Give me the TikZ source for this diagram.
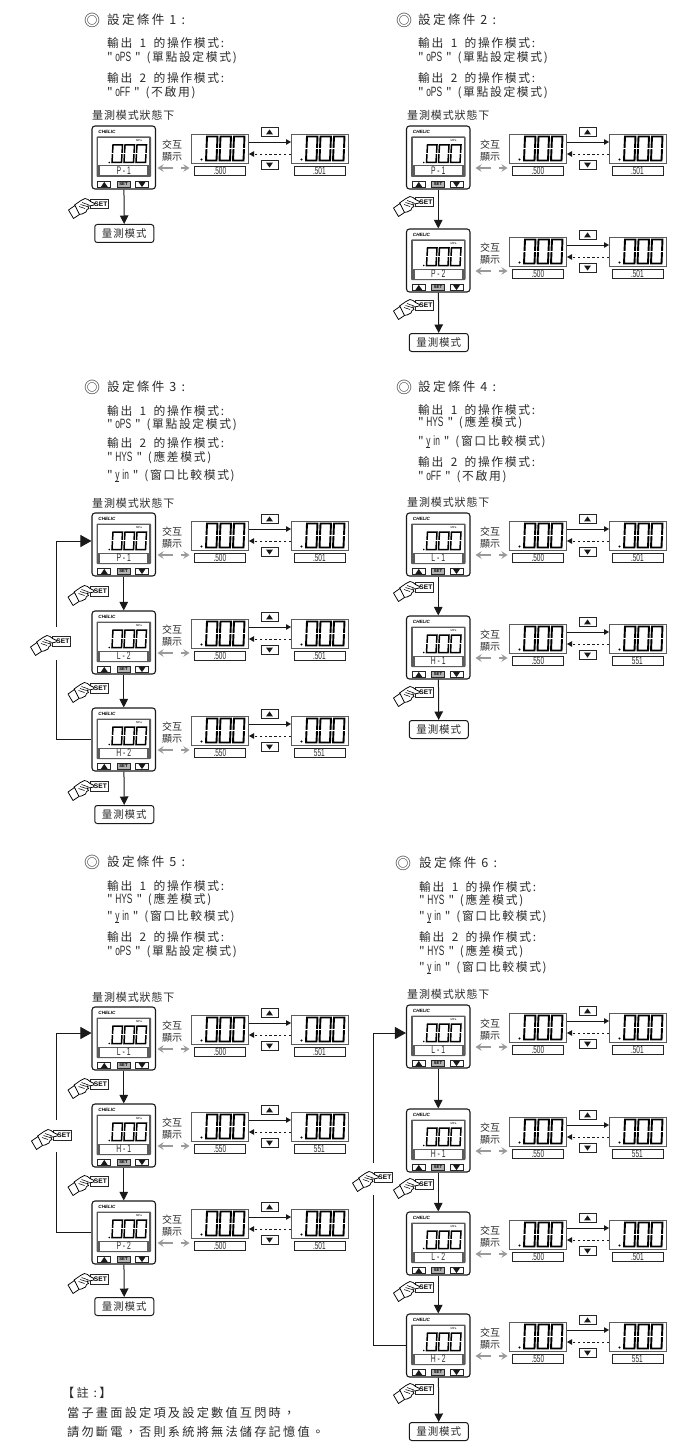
\documentclass[tikz,border=0pt]{standalone}
\usepackage{fontspec}
\usetikzlibrary{arrows.meta}
\setmainfont{Liberation Sans}
\newfontfamily\cjktitle[LetterSpace=18]{Noto Sans CJK TC}
\newfontfamily\cjkline[LetterSpace=14]{Noto Sans CJK TC}
\newfontfamily\cjkplain[LetterSpace=8]{Noto Sans CJK TC}
\newfontfamily\cjktight{Noto Sans CJK TC}
\newfontfamily\segf[FakeStretch=0.62]{Liberation Sans}
\newcommand{\seg}[1]{{\segf #1}}
\newcommand{\segin}[1]{{\segf\fontsize{13.5}{13.5}\selectfont #1}}
\newcommand{\fwcomma}{\symbol{"FF0C}}
\definecolor{ink}{HTML}{2A2A2A}
\definecolor{framegray}{HTML}{5C5C5C}
\definecolor{arrowgray}{HTML}{9A9A9A}
\tikzset{
  x=1pt,y=-1pt,
  devbox/.style={draw=black!90,line width=1.1pt,rounded corners=3pt,minimum width=63.5pt,minimum height=63pt,inner sep=0pt,fill=white},
  dispbox/.style={draw=framegray,line width=1pt,minimum width=57pt,minimum height=29pt,inner sep=0pt,fill=white},
  valbox/.style={draw=black!85,line width=.7pt,minimum width=51pt,minimum height=9pt,inner sep=0pt,font=\fontsize{10.5}{10.5}\selectfont,text=ink},
  labbox/.style={fill=white,minimum width=47pt,minimum height=9pt,inner sep=0pt,font=\fontsize{11}{11}\selectfont,text=ink},
  keybox/.style={draw=black!85,line width=.9pt,minimum width=17pt,minimum height=9.5pt,inner sep=0pt,fill=white},
  devkey/.style={draw=black!85,line width=.9pt,minimum width=13pt,minimum height=6pt,inner sep=0pt,fill=white},
  setkey/.style={devkey,fill=black!30,font=\bfseries\fontsize{4.2}{4.2}\selectfont,text=black},
  setbtn/.style={draw=black!85,line width=.8pt,minimum width=18pt,minimum height=9.5pt,inner sep=0pt,fill=white,font=\bfseries\fontsize{6.6}{6.6}\selectfont,text=black},
  endbox/.style={draw=black!90,line width=1pt,rounded corners=2.5pt,minimum width=59pt,minimum height=18pt,inner sep=0pt,font=\cjkplain\fontsize{10.5}{10.5}\selectfont,text=ink},
  txtline/.style={anchor=west,inner sep=0pt,text=ink,font=\cjkline\fontsize{11.8}{11.8}\selectfont},
  txttitle/.style={anchor=west,inner sep=0pt,text=ink,font=\cjktitle\fontsize{12.6}{12.6}\selectfont},
  txtcap/.style={anchor=west,inner sep=0pt,text=ink,font=\cjkplain\fontsize{11}{11}\selectfont},
  txtnote/.style={anchor=west,inner sep=0pt,text=ink,font=\cjktitle\fontsize{12.2}{12.2}\selectfont},
  swap/.style={inner sep=0pt,text=ink,font=\cjktight\fontsize{10}{10}\selectfont},
  flow/.style={draw=black!90,line width=1pt,-{Triangle[length=8.5pt,width=8.5pt]}},
  loopline/.style={draw=black!90,line width=.9pt},
  loophead/.style={draw=black!90,line width=.9pt,-{Triangle[length=11pt,width=12pt]}},
  fwd/.style={draw=black!90,line width=.9pt,-{Triangle[length=5pt,width=5.5pt]}},
  back/.style={draw=black!90,line width=.9pt,dash pattern=on 2.4pt off 2.4pt,-{Triangle[length=5pt,width=5.5pt]}},
  swaparrow/.style={draw=arrowgray,line width=1.5pt,-{Stealth[length=6pt,width=7.5pt]}},
}
% seven-segment style zero: x, y, width, height, stroke
\newcommand{\segzero}[5]{\draw[line width=#5,black,line join=miter] (#1+1,#2) -- (#1+#3,#2) -- (#1+#3-1,#2+#4) -- (#1,#2+#4) -- cycle;
\draw[white,line width=.55pt] (#1-1,#2+#4/2) -- (#1+2,#2+#4/2) (#1+#3-2,#2+#4/2) -- (#1+#3+1,#2+#4/2);}
\newcommand{\upmark}[2]{\fill[black!90] (#1-3.4,#2+2.4) -- (#1+3.4,#2+2.4) -- (#1,#2-2.6) -- cycle;}
\newcommand{\downmark}[2]{\fill[black!90] (#1-3.4,#2-2.4) -- (#1+3.4,#2-2.4) -- (#1,#2+2.6) -- cycle;}
% name, x, y, label, value 1, value 2, offset of the first display
\newcommand{\dpanel}[7]{%
\begin{scope}[shift={(#2,#3)}]
  \node[devbox] (#1) at (31.75,31.5) {};
  \fill[framegray,rounded corners=.8pt] (4.5,10.5) rectangle (59,51);
  \fill[white] (6.2,12) rectangle (57.3,39.5);
  \node[labbox] (#1lab) at (31.75,45) {\seg{#4}};
  \node[inner sep=0pt,font=\bfseries\itshape\fontsize{4.6}{4.6}\selectfont] (#1brand) at (15,6) {CHELIC};
  \node[inner sep=0pt,font=\fontsize{2.8}{2.8}\selectfont] (#1mpa) at (47,14.5) {MPa};
  \fill (17.2,36.5) circle (.9);
  \segzero{20}{19}{10.5}{17.5}{1.5pt}
  \segzero{32}{19}{10.5}{17.5}{1.5pt}
  \segzero{44}{19}{10.5}{17.5}{1.5pt}
  \node[devkey] (#1ku) at (12.3,58.5) {}; \upmark{12.3}{58.5}
  \node[setkey] (#1ks) at (31.5,58.5) {SET};
  \node[devkey] (#1kd) at (50,58.5) {}; \downmark{50}{58.5}
  \node[swap] (#1s1) at (#7-24,19) {交};
  \node[swap] (#1s2) at (#7-14,19) {互};
  \node[swap] (#1s3) at (#7-24,31) {顯};
  \node[swap] (#1s4) at (#7-14,31) {示};
  \node[dispbox,anchor=north west] (#1L) at (#7,8) {};
  \fill (#7+10.5,8+25.5) circle (1.1);
  \segzero{#7+15}{10.5}{11.5}{24}{1.9pt}
  \segzero{#7+28.5}{10.5}{11.5}{24}{1.9pt}
  \segzero{#7+42}{10.5}{11.5}{24}{1.9pt}
  \node[dispbox,anchor=north west] (#1R) at (#7+100,8) {};
  \fill (#7+110.5,8+25.5) circle (1.1);
  \segzero{#7+115}{10.5}{11.5}{24}{1.9pt}
  \segzero{#7+128.5}{10.5}{11.5}{24}{1.9pt}
  \segzero{#7+142}{10.5}{11.5}{24}{1.9pt}
  \node[valbox,anchor=north west] (#1Lv) at (#7+3,40) {\seg{#5}};
  \node[valbox,anchor=north west] (#1Rv) at (#7+102.5,40) {\seg{#6}};
  \node[keybox] (#1U) at (#7+78.5,6) {}; \upmark{#7+78.5}{6}
  \node[keybox] (#1D) at (#7+78.5,39) {}; \downmark{#7+78.5}{39}
  \draw[fwd] (#1L.east |- 0,16) -- (#1R.west |- 0,16);
  \draw[back] (#1R.west |- 0,28) -- (#1L.east |- 0,28);
  \coordinate (#1g1) at (#7-18,42);
  \coordinate (#1g2) at (#7-33.5,42);
  \coordinate (#1g3) at (#7-10,42);
  \coordinate (#1g4) at (#7-1.5,42);
  \draw[swaparrow] (#1g1) -- (#1g2);
  \draw[swaparrow] (#1g3) -- (#1g4);
\end{scope}}
% pressing hand with its SET key: name, x, y of the key
\newcommand{\presshand}[3]{%
\begin{scope}[shift={(#2,#3)}]
  \node[setbtn,anchor=north west] (#1) at (0,0) {\hspace{3pt}SET};
  \filldraw[fill=white,draw=black,line width=.75pt,line join=round]
    (-15.5,6) -- (-9,1.5) -- (-5,-.5) -- (-2,.5) -- (.5,2.5) -- (4.5,4.5) -- (4.2,6) -- (.5,6.8) -- (-2.5,7) -- (-1,9.5) -- (-3,10.5) -- (-4,13) -- (-8,15) -- (-12,15.5) -- cycle;
  \filldraw[fill=white,draw=black,line width=.75pt,line join=round]
    (-21.5,11) -- (-15,6.5) -- (-10.5,15.5) -- (-16.5,19.5) -- cycle;
  \draw[black,line width=.55pt] (-8,3.5) -- (-1,6) (-9.5,5.5) -- (-3,7.5) (-11,7.5) -- (-5,9.5);
\end{scope}}
\newcommand{\tln}[4]{\node[txtline] (#1) at (#2,#3) {#4};}
\newcommand{\ttl}[5]{\node[inner sep=0pt,text=ink,font=\cjktight\fontsize{16}{16}\selectfont] (#1m) at (#2,#4) {◎};\node[txttitle] (#1) at (#3,#4) {#5};}
\newcommand{\cpt}[4]{\node[txtcap] (#1) at (#2,#3) {#4};}
\newcommand{\outl}[1]{輸出\hspace{3pt} #1\hspace{3pt} 的操作模式:}
\newcommand{\qseg}[1]{"\hspace{2.5pt}\segin{#1}\hspace{4pt}"\hspace{1.5pt}}
\newcommand{\ops}{\qseg{oPS} (單點設定模式)}
\newcommand{\hys}{\qseg{HYS} (應差模式)}
\newcommand{\yin}{\qseg{\underbar{y}\hspace{3pt}in} (窗口比較模式)}
\newcommand{\off}{\qseg{oFF} (不啟用)}
\begin{document}
\begin{tikzpicture}
\useasboundingbox (0,0) rectangle (695,1455);
% condition 1
\ttl{t1}{92}{107}{20}{設定條件 1 :}
\tln{t1a}{107}{43}{\outl{1}}
\tln{t1b}{107}{58}{\ops}
\tln{t1c}{107}{78}{\outl{2}}
\tln{t1d}{107}{93}{\off}
\cpt{c1}{92}{115}{量測模式狀態下}
\dpanel{a}{92}{126}{P - 1}{.500}{.501}{99}
\presshand{ah}{90}{199}
\node[endbox,anchor=north west] (ae) at (94.25,224) {量測模式};
\draw[flow] (a) -- (ae);
% condition 2
\ttl{t2}{404}{418}{20}{設定條件 2 :}
\tln{t2a}{418}{43}{\outl{1}}
\tln{t2b}{418}{58}{\ops}
\tln{t2c}{418}{78}{\outl{2}}
\tln{t2d}{418}{93}{\ops}
\cpt{c2}{407}{115}{量測模式狀態下}
\dpanel{b}{406.5}{126}{P - 1}{.500}{.501}{102.5}
\dpanel{bb}{406.5}{229}{P - 2}{.500}{.501}{102.5}
\presshand{bh}{415}{197}
\presshand{bbh}{415}{300}
\node[endbox,anchor=north west] (be) at (408.75,333) {量測模式};
\draw[flow] (b) -- (bb);
\draw[flow] (bb) -- (be);
% condition 3
\ttl{t3}{92}{107}{387}{設定條件 3 :}
\tln{t3a}{107}{411}{\outl{1}}
\tln{t3b}{107}{425}{\ops}
\tln{t3c}{107}{443}{\outl{2}}
\tln{t3d}{107}{458}{\hys}
\tln{t3e}{107}{476}{\yin}
\cpt{c3}{92}{503}{量測模式狀態下}
\dpanel{c}{92}{513}{P - 1}{.500}{.501}{99}
\dpanel{cc}{92}{611}{L - 2}{.500}{.501}{99}
\dpanel{ccc}{92}{708}{H - 2}{.550}{551}{99}
\presshand{ch}{89.5}{586}
\presshand{cch}{89.5}{683}
\presshand{ccch}{89.5}{781}
\node[endbox,anchor=north west] (ce) at (94.25,805) {量測模式};
\draw[flow] (c) -- (cc);
\draw[flow] (cc) -- (ccc);
\draw[flow] (ccc) -- (ce);
\coordinate (clow) at (56,660);
\coordinate (cup) at (56,627);
\draw[loopline] (ccc.west) -| (clow);
\draw[loophead] (cup) |- ([yshift=3.5pt]c.west);
\presshand{clh}{52}{636}
% condition 4
\ttl{t4}{404}{418}{387}{設定條件 4 :}
\tln{t4a}{418}{410}{\outl{1}}
\tln{t4b}{418}{423}{\hys}
\tln{t4c}{418}{442}{\yin}
\tln{t4d}{418}{462}{\outl{2}}
\tln{t4e}{418}{477}{\off}
\cpt{c4}{407}{502}{量測模式狀態下}
\dpanel{d}{406.5}{513}{L - 1}{.500}{.501}{102.5}
\dpanel{dd}{406.5}{616}{H - 1}{.550}{551}{102.5}
\presshand{dh}{415}{582}
\presshand{ddh}{415}{687}
\node[endbox,anchor=north west] (de) at (408.75,720) {量測模式};
\draw[flow] (d) -- (dd);
\draw[flow] (dd) -- (de);
% condition 5
\ttl{t5}{92}{107}{862}{設定條件 5 :}
\tln{t5a}{107}{886}{\outl{1}}
\tln{t5b}{107}{900}{\hys}
\tln{t5c}{107}{917}{\yin}
\tln{t5d}{107}{937}{\outl{2}}
\tln{t5e}{107}{952}{\ops}
\cpt{c5}{92}{997}{量測模式狀態下}
\dpanel{e}{92}{1007}{L - 1}{.500}{.501}{99}
\dpanel{ee}{92}{1104}{H - 1}{.550}{551}{99}
\dpanel{eee}{92}{1201}{P - 2}{.500}{.501}{99}
\presshand{eh}{89.5}{1079}
\presshand{eeh}{89.5}{1176}
\presshand{eeeh}{89.5}{1274}
\node[endbox,anchor=north west] (ee2) at (94.25,1297) {量測模式};
\draw[flow] (e) -- (ee);
\draw[flow] (ee) -- (eee);
\draw[flow] (eee) -- (ee2);
\coordinate (elow) at (56,1152);
\coordinate (eup) at (56,1120);
\draw[loopline] (eee.west) -| (elow);
\draw[loophead] (eup) |- ([yshift=5.5pt]e.west);
\presshand{elh}{53}{1130}
% condition 6
\ttl{t6}{403}{419}{863}{設定條件 6 :}
\tln{t6a}{419}{887}{\outl{1}}
\tln{t6b}{419}{901}{\hys}
\tln{t6c}{419}{917}{\yin}
\tln{t6d}{419}{937}{\outl{2}}
\tln{t6e}{419}{952}{\hys}
\tln{t6f}{419}{968}{\yin}
\cpt{c6}{407}{994}{量測模式狀態下}
\dpanel{f}{406.5}{1005}{L - 1}{.500}{.501}{102.5}
\dpanel{ff}{406.5}{1109}{H - 1}{.550}{551}{102.5}
\dpanel{fff}{406.5}{1212}{L - 2}{.500}{.501}{102.5}
\dpanel{ffff}{406.5}{1314}{H - 2}{.550}{551}{102.5}
\presshand{ffh}{415}{1179}
\presshand{fffh}{415}{1282}
\presshand{ffffh}{415}{1384}
\node[endbox,anchor=north west] (fe) at (408.75,1422) {量測模式};
\draw[flow] (f) -- (ff);
\draw[flow] (ff) -- (fff);
\draw[flow] (fff) -- (ffff);
\draw[flow] (ffff) -- (fe);
\coordinate (flow) at (373,1195);
\coordinate (fup) at (373,1163);
\draw[loopline] (ffff.west) -| (flow);
\draw[loophead] (fup) |- ([yshift=3.5pt]f.west);
\presshand{flh}{374}{1172}
% note
\node[txtnote] (n1) at (62,1393) {【註 :】};
\node[txtnote] (n2) at (67,1413) {當子畫面設定項及設定數值互閃時\fwcomma};
\node[txtnote] (n3) at (67,1432) {請勿斷電\fwcomma 否則系統將無法儲存記憶值。};
\end{tikzpicture}
\end{document}
